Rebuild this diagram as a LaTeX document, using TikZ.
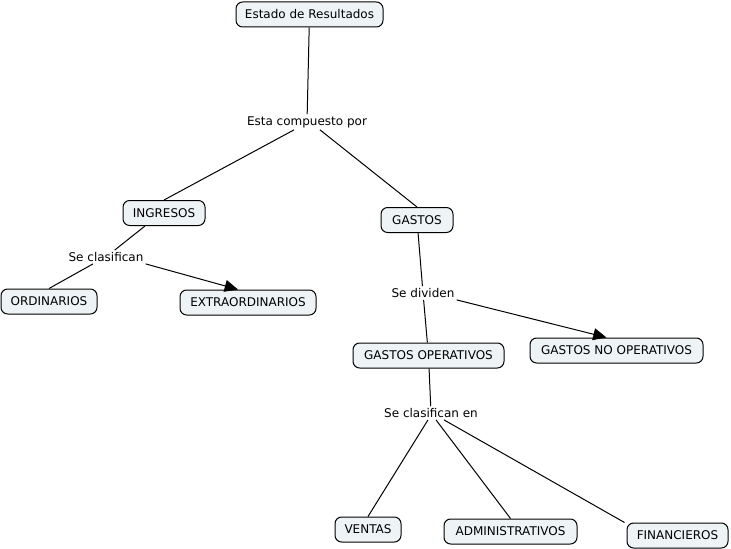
\documentclass[tikz,border=0pt]{standalone}
\usepackage{fontspec}
\setmainfont{DejaVu Sans}
\usetikzlibrary{arrows.meta}
\definecolor{boxfill}{HTML}{EEF3F5}
\tikzset{
  concept/.style={draw=black, line width=0.75pt, fill=boxfill, rounded corners=5pt,
    minimum height=25*0.75pt, inner xsep=6pt, inner ysep=2pt, font=\fontsize{9}{11}\selectfont},
  linkph/.style={inner sep=1.5pt, font=\fontsize{9}{11}\selectfont},
  conn/.style={draw=black, line width=0.75pt},
  arr/.style={conn, -{Triangle[length=10pt,width=9pt]}}
}
\begin{document}
\begin{tikzpicture}[x=0.75pt,y=-0.75pt]
\useasboundingbox (0,0) rectangle (731,549);
\node[concept, minimum width=147*0.75pt] (er) at (309.5,14.5) {Estado de Resultados};
\node[linkph] (ecp) at (307,122) {Esta compuesto por};
\node[concept, minimum width=82*0.75pt] (ing) at (164,213) {INGRESOS};
\node[concept, minimum width=72*0.75pt] (gas) at (417,220) {GASTOS};
\node[linkph] (sc) at (106,257) {Se clasifican};
\node[concept, minimum width=96*0.75pt] (ord) at (49,301.5) {ORDINARIOS};
\node[concept, minimum width=136*0.75pt] (ext) at (248,302.5) {EXTRAORDINARIOS};
\node[linkph] (sd) at (423,293) {Se dividen};
\node[concept, minimum width=151*0.75pt] (gop) at (428.5,355.5) {GASTOS OPERATIVOS};
\node[concept, minimum width=173*0.75pt] (gnop) at (616.5,350.5) {GASTOS NO OPERATIVOS};
\node[linkph] (sce) at (431,413) {Se clasifican en};
\node[concept, minimum width=66*0.75pt] (ven) at (368,529.5) {VENTAS};
\node[concept, minimum width=133*0.75pt] (adm) at (510.5,531.5) {ADMINISTRATIVOS};
\node[concept, minimum width=101*0.75pt] (fin) at (677.5,535.5) {FINANCIEROS};

\draw[conn] (er) -- (ecp);
\draw[conn] ([xshift=-13*0.75pt]ecp.south) -- (ing.north);
\draw[conn] ([xshift=13*0.75pt]ecp.south) -- (gas.north);
\draw[conn] ([xshift=-19*0.75pt]ing.south) -- (sc);
\draw[conn] ([xshift=-13*0.75pt]sc.south) -- (ord.north);
\draw[arr] (sc.south east) -- ([xshift=-10*0.75pt]ext.north);
\draw[conn] (gas) -- (sd);
\draw[conn] (sd) -- (gop);
\draw[arr] (sd.south east) -- ([xshift=-10*0.75pt]gnop.north);
\draw[conn] (gop) -- (sce);
\draw[conn] ([xshift=-3*0.75pt]sce.south) -- (ven.north);
\draw[conn] ([xshift=5*0.75pt]sce.south) -- (adm.north);
\draw[conn] ([xshift=13*0.75pt]sce.south) -- ([xshift=-2*0.75pt]fin.north west);
\end{tikzpicture}
\end{document}
